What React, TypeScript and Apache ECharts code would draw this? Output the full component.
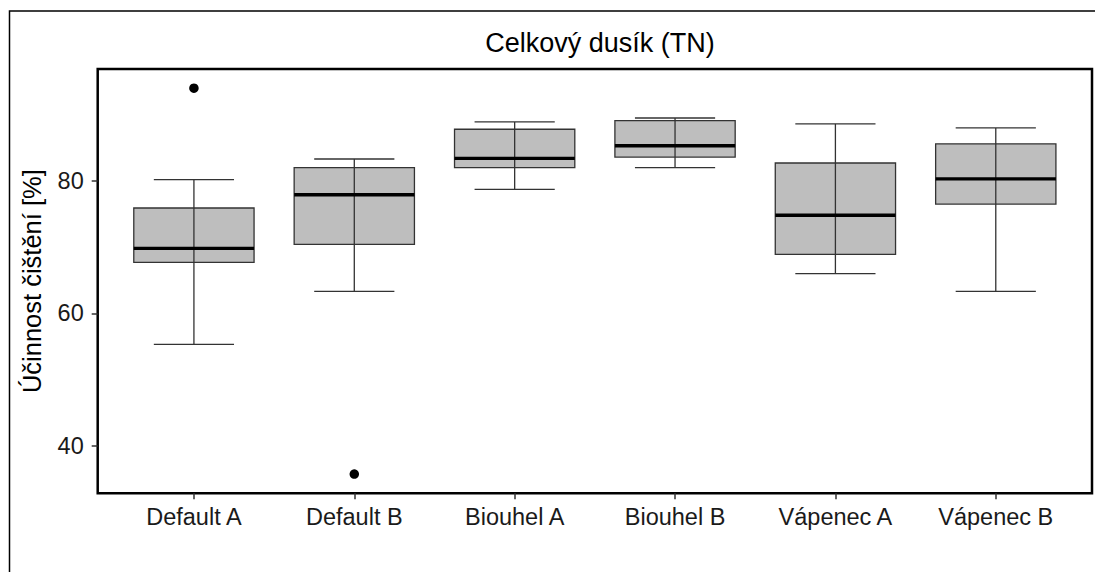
import React, { useEffect, useRef } from "react";
import * as echarts from "echarts";

const categories = ["Default A", "Default B", "Biouhel A", "Biouhel B", "Vápenec A", "Vápenec B"];
const lowerWhisker = [55.3, 63.3, 78.7, 82.0, 66.0, 63.3];
const q1Values = [67.7, 70.4, 82.0, 83.6, 68.9, 76.5];
const medianValues = [69.8, 77.9, 83.4, 85.3, 74.8, 80.3];
const q3Values = [75.9, 82.0, 87.8, 89.1, 82.7, 85.6];
const upperWhisker = [80.2, 83.3, 88.9, 89.5, 88.6, 88.0];
const outlierCategory = ["Default A", "Default B"];
const outlierValues = [94.0, 35.7];
const yTicks = [40, 60, 80];
const yMin = 32.8;
const yMax = 96.9;

export default function App() {
  const ref = useRef<HTMLDivElement>(null);
  useEffect(() => {
    if (!ref.current) return;
    const chart = echarts.init(ref.current, null, { renderer: "svg" });
    const boxData = categories.map((c, i) => [
      i + 1,
      lowerWhisker[i],
      q1Values[i],
      medianValues[i],
      q3Values[i],
      upperWhisker[i],
    ]);
    const outlierData = outlierCategory.map((c, i) => [categories.indexOf(c) + 1, outlierValues[i]]);
    const font = "'Liberation Sans', Arial, sans-serif";
    chart.setOption({
      animation: false,
      backgroundColor: "#ffffff",
      title: {
        text: "Celkový dusík (TN)",
        left: 595,
        top: 24,
        textAlign: "center",
        textStyle: { fontFamily: font, fontSize: 27, fontWeight: "normal", color: "#000" },
      },
      graphic: [
        {
          type: "polyline",
          shape: { points: [[9.5, 700], [9.5, 11], [1300, 11]] },
          style: { fill: "none", stroke: "#000", lineWidth: 1.5 },
          silent: true,
          z: -1,
        },
      ],
      grid: {
        left: 97.7,
        top: 69,
        right: 3,
        bottom: 78.7,
        show: true,
        borderColor: "#000",
        borderWidth: 2.5,
        backgroundColor: "transparent",
      },
      xAxis: {
        type: "value",
        min: 0.4,
        max: 6.6,
        splitLine: { show: false },
        axisLine: { show: false },
        axisTick: {
          show: true,
          customValues: [1, 2, 3, 4, 5, 6],
          length: 6,
          lineStyle: { color: "#333", width: 1.5 },
        },
        axisLabel: {
          customValues: [1, 2, 3, 4, 5, 6],
          formatter: (v: number) => categories[Math.round(v) - 1] ?? "",
          margin: 12,
          fontFamily: font,
          fontSize: 23.5,
          color: "#1a1a1a",
        },
      },
      yAxis: {
        type: "value",
        min: yMin,
        max: yMax,
        name: "Účinnost čištění [%]",
        nameLocation: "middle",
        nameGap: 53,
        nameRotate: 90,
        nameTextStyle: { fontFamily: font, fontSize: 25.5, color: "#000" },
        splitLine: { show: false },
        axisLine: { show: false },
        axisTick: {
          show: true,
          customValues: yTicks,
          length: 6,
          lineStyle: { color: "#333", width: 1.5 },
        },
        axisLabel: {
          customValues: yTicks,
          margin: 14,
          fontFamily: font,
          fontSize: 23.5,
          color: "#1a1a1a",
        },
      },
      series: [
        {
          type: "custom",
          data: boxData,
          encode: { x: 0, y: [1, 2, 3, 4, 5] },
          renderItem: (params: any, api: any) => {
            const x = api.value(0);
            const unit = api.size([1, 0])[0];
            const boxW = unit * 0.75;
            const capW = unit * 0.5;
            const pLo = api.coord([x, api.value(1)]);
            const pQ1 = api.coord([x, api.value(2)]);
            const pMed = api.coord([x, api.value(3)]);
            const pQ3 = api.coord([x, api.value(4)]);
            const pHi = api.coord([x, api.value(5)]);
            const cx = pLo[0];
            const lineStyle = { stroke: "#333", lineWidth: 1.3 };
            return {
              type: "group",
              children: [
                {
                  type: "rect",
                  shape: { x: cx - boxW / 2, y: pQ3[1], width: boxW, height: pQ1[1] - pQ3[1] },
                  style: { fill: "#bebebe", stroke: "#333", lineWidth: 1.3 },
                },
                { type: "line", shape: { x1: cx, y1: pHi[1], x2: cx, y2: pLo[1] }, style: lineStyle },
                { type: "line", shape: { x1: cx - capW / 2, y1: pHi[1], x2: cx + capW / 2, y2: pHi[1] }, style: lineStyle },
                { type: "line", shape: { x1: cx - capW / 2, y1: pLo[1], x2: cx + capW / 2, y2: pLo[1] }, style: lineStyle },
                {
                  type: "line",
                  shape: { x1: cx - boxW / 2, y1: pMed[1], x2: cx + boxW / 2, y2: pMed[1] },
                  style: { stroke: "#000", lineWidth: 3.4 },
                },
              ],
            };
          },
        },
        {
          type: "scatter",
          data: outlierData,
          symbol: "circle",
          symbolSize: 9.5,
          itemStyle: { color: "#000", opacity: 1 },
        },
      ],
    });
    return () => chart.dispose();
  }, []);
  return (
    <div
      ref={ref}
      style={{ position: "fixed", left: 0, top: 0, width: 1095, height: 572, background: "#fff" }}
    />
  );
}
